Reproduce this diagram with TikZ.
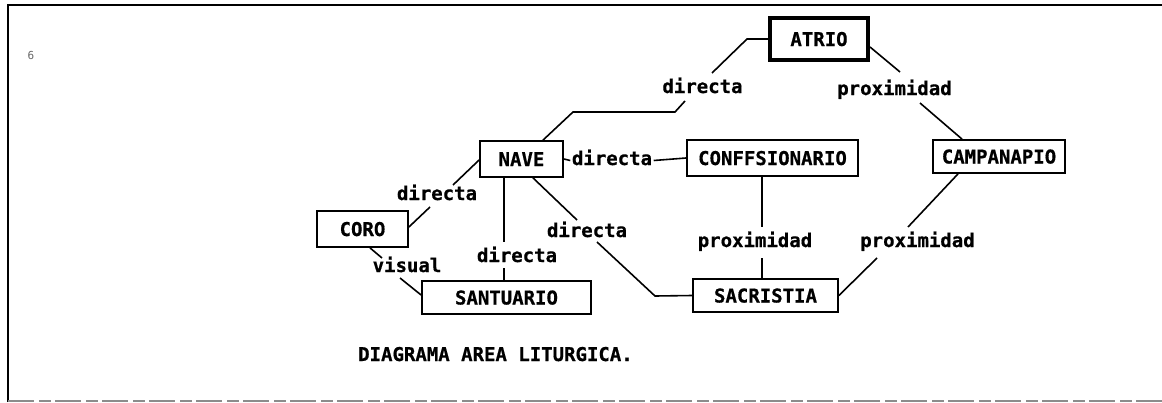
\documentclass[tikz,border=0pt]{standalone}
\usepackage{fontspec}
\newfontfamily\tw{DejaVu Sans Mono}[BoldFeatures={FakeBold=0.6}]
\begin{document}
\begin{tikzpicture}[x=1pt,y=-1pt,
  every node/.style={font=\tw\bfseries\fontsize{19}{22}\selectfont},
  room/.style={draw,line width=1.8pt,inner sep=0pt,text height=14pt,text depth=0pt},
  rel/.style={inner sep=1.5pt,text height=13pt,text depth=4pt},
  link/.style={line width=1.6pt}]
\useasboundingbox (0,0) rectangle (1162,402);
% frame
\draw[line width=2.4pt] (8,402) -- (8,5) -- (1162,5);
\draw[line width=1.1pt,black!45,dash pattern=on 26pt off 5pt on 12pt off 4pt] (8,401) -- (1162,401);
\node[font=\tw\fontsize{11}{12}\selectfont,text=black!60] (pg) at (31,55) {6};
% rooms
\node[room,line width=4pt,minimum width=98,minimum height=42] (atrio) at (819,39) {ATRIO};
\node[room,minimum width=83,minimum height=36] (nave) at (521.5,159) {NAVE};
\node[room,minimum width=171,minimum height=36] (conf) at (772.5,158) {CONFFSIONARIO};
\node[room,minimum width=132,minimum height=33] (camp) at (999,156.5) {CAMPANAPIO};
\node[room,minimum width=91,minimum height=36] (coro) at (362.5,229) {CORO};
\node[room,minimum width=169,minimum height=33] (sant) at (506.5,297.5) {SANTUARIO};
\node[room,minimum width=145,minimum height=33] (sacr) at (765.5,295.5) {SACRISTIA};
% relation labels
\node[rel] (l1) at (702.5,88.5) {directa};
\node[rel] (l2) at (894.5,90.5) {proximidad};
\node[rel] (l3) at (612,160.5) {directa};
\node[rel] (l4) at (437,195.5) {directa};
\node[rel] (l5) at (517,257.5) {directa};
\node[rel] (l6) at (587,232.5) {directa};
\node[rel] (l7) at (755,242.5) {proximidad};
\node[rel] (l8) at (917.5,242.5) {proximidad};
\node[rel] (l9) at (407,267.5) {visual};
\node[anchor=west,inner sep=0pt,text height=14pt,text depth=0pt] (title) at (358,354) {DIAGRAMA AREA LITURGICA.};
% bend / end coordinates
\coordinate (a1) at (747,39);
\coordinate (a2) at (712,73);
\coordinate (a3) at (685,101);
\coordinate (a4) at (675,112);
\coordinate (a5) at (573,112);
\coordinate (b1) at (900,72);
\coordinate (b2) at (920,103);
\coordinate (c1) at (453,185);
\coordinate (c2) at (430,207);
\coordinate (d1) at (504,242);
\coordinate (d2) at (504,268);
\coordinate (e1) at (577,220);
\coordinate (e2) at (597,242);
\coordinate (e3) at (655,296);
\coordinate (f1) at (762,227);
\coordinate (f2) at (762,258);
\coordinate (g1) at (908,227);
\coordinate (g2) at (877,258);
\coordinate (h1) at (382,258);
\coordinate (h2) at (400,278);
% connectors
\draw[link] (atrio.west) -- (a1) -- (a2);
\draw[link] (a3) -- (a4) -- (a5) -- ([xshift=21.5]nave.north);
\draw[link] ([yshift=-8]atrio.east) -- (b1);
\draw[link] (b2) -- ([xshift=-37]camp.north);
\draw[link] (nave.east) -- (l3.west);
\draw[link] (l3.east) -- (conf.west);
\draw[link] ([yshift=-1]nave.west) -- (c1);
\draw[link] (c2) -- ([yshift=2]coro.east);
\draw[link] ([xshift=-17.5]nave.south) -- (d1);
\draw[link] (d2) -- ([xshift=-2.5]sant.north);
\draw[link] ([xshift=11.5]nave.south) -- (e1);
\draw[link] (e2) -- (e3) -- (sacr.west);
\draw[link] ([xshift=-10.5]conf.south) -- (f1);
\draw[link] (f2) -- ([xshift=-3.5]sacr.north);
\draw[link] ([xshift=-41]camp.south) -- (g1);
\draw[link] (g2) -- (sacr.east);
\draw[link] ([xshift=7.5]coro.south) -- (h1);
\draw[link] (h2) -- ([yshift=2.5]sant.west);
\end{tikzpicture}
\end{document}
